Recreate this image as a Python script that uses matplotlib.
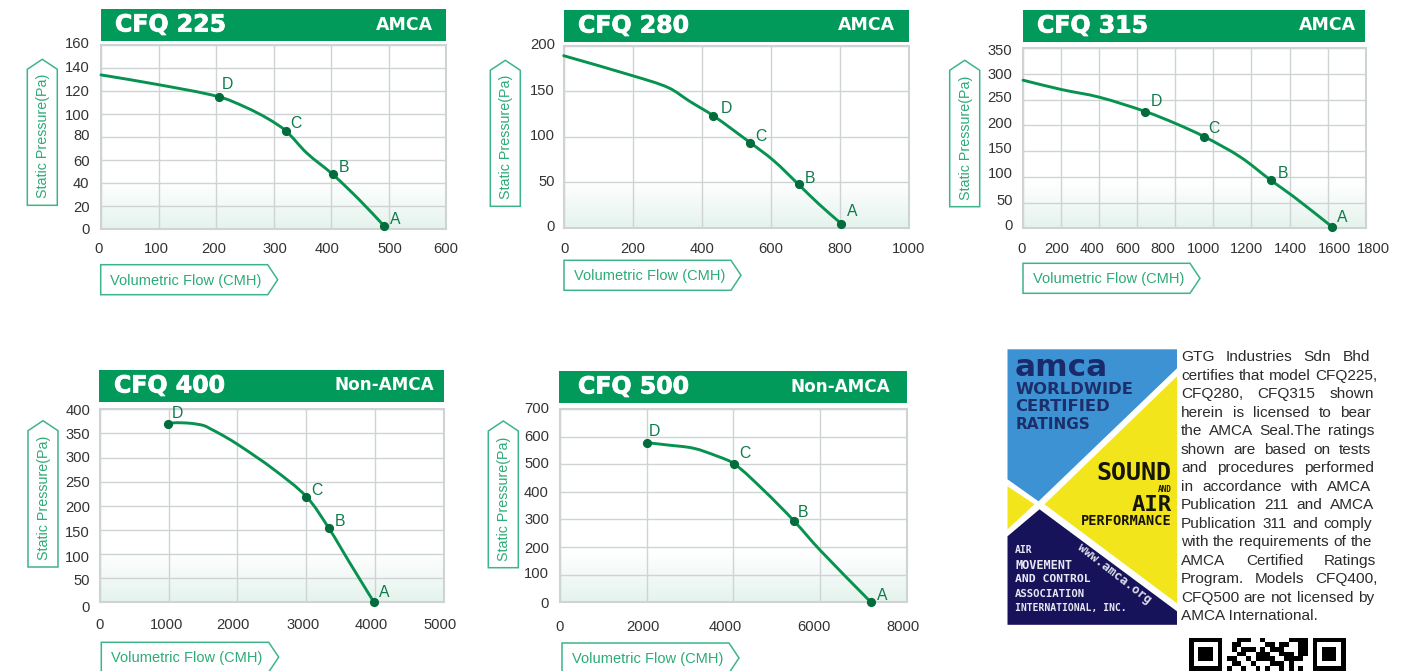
import numpy as np
import matplotlib
matplotlib.use("Agg")
import matplotlib.pyplot as plt
import matplotlib.patheffects as pe
from matplotlib.patches import Polygon, Rectangle, PathPatch
from matplotlib.path import Path
from matplotlib.transforms import ScaledTranslation
from matplotlib.colors import LinearSegmentedColormap

W, H = 1412, 671
DPI = 100
plt.rcParams['font.family'] = ['Liberation Sans', 'DejaVu Sans']

GREEN = '#029a5a'
LINE = '#07924f'
DOT = '#036c3d'
LETTER = '#0f7a4a'
BOX = '#3fb488'
BOXTXT = '#2cab78'
TICK = '#333333'
GRID = '#d0d3d3'

# ---- data ----
MODELS = ['CFQ 225', 'CFQ 280', 'CFQ 315', 'CFQ 400', 'CFQ 500']
CLASSES = ['AMCA', 'AMCA', 'AMCA', 'Non-AMCA', 'Non-AMCA']

FLOW_225 = [0, 100, 205, 251, 290, 321, 358, 403, 450, 493]
PRES_225 = [134, 125.5, 115, 106, 96, 85.5, 66, 47.5, 25, 2.3]
PTS_X_225 = [493, 403, 321, 205]
PTS_Y_225 = [2.3, 47.5, 85.5, 115]
XT_225 = [0, 100, 200, 300, 400, 500, 600]
YT_225 = [0, 20, 40, 60, 80, 100, 120, 140, 160]

FLOW_280 = [0, 200, 303, 365, 434, 541, 608, 681, 740, 805]
PRES_280 = [189, 167, 154, 139, 123, 93.4, 74, 47.6, 26, 4.4]
PTS_X_280 = [805, 681, 541, 434]
PTS_Y_280 = [4.4, 47.6, 93.4, 123]
XT_280 = [0, 200, 400, 600, 800, 1000]
YT_280 = [0, 50, 100, 150, 200]

FLOW_315 = [0, 200, 400, 643, 800, 953, 1140, 1303, 1420, 1623]
PRES_315 = [288, 270, 255, 227, 204, 178, 139, 93, 62, 3]
PTS_X_315 = [1623, 1303, 953, 643]
PTS_Y_315 = [3, 93, 178, 227]
XT_315 = [0, 200, 400, 600, 800, 1000, 1200, 1400, 1600, 1800]
YT_315 = [0, 50, 100, 150, 200, 250, 300, 350]

FLOW_400 = [998, 1080, 1192, 1320, 1420, 1520, 1604, 1800, 2040, 2524, 3004, 3333, 3638, 3987]
PRES_400 = [370, 372, 372, 371, 369, 366, 360, 345, 324, 276, 219, 153, 81, 0]
PTS_X_400 = [3987, 3333, 3004, 998]
PTS_Y_400 = [0, 153, 219, 370]
XT_400 = [0, 1000, 2000, 3000, 4000, 5000]
YT_400 = [0, 50, 100, 150, 200, 250, 300, 350, 400]

FLOW_500 = [2015, 2462, 3077, 3615, 4015, 4692, 5392, 6000, 7177]
PRES_500 = [578, 570, 558, 530, 502, 407, 296, 189, 0]
PTS_X_500 = [7177, 5392, 4015, 2015]
PTS_Y_500 = [0, 296, 502, 578]
XT_500 = [0, 2000, 4000, 6000, 8000]
YT_500 = [0, 100, 200, 300, 400, 500, 600, 700]

POINT_NAMES = ['A', 'B', 'C', 'D']
X_LABEL = 'Volumetric Flow (CMH)'
Y_LABEL = 'Static Pressure(Pa)'

PARAGRAPH = [
    'GTG Industries Sdn Bhd',
    'certifies that model CFQ225,',
    'CFQ280, CFQ315 shown',
    'herein is licensed to bear',
    'the AMCA Seal.The ratings',
    'shown are based on tests',
    'and procedures performed',
    'in accordance with AMCA',
    'Publication 211 and AMCA',
    'Publication 311 and comply',
    'with the requirements of the',
    'AMCA Certified Ratings',
    'Program. Models CFQ400,',
    'CFQ500 are not licensed by',
    'AMCA International.',
]
PARA_RIGHT = [1370, 1377, 1374, 1371, 1374, 1371, 1374, 1371, 1374, 1372, 1372, 1376, 1378, 1374, None]

QR_MIDDLE = [
    "00111001000001111",
    "01100000110110011",
    "01011101011100011",
    "00110011100111011",
    "11001011110011110",
    "01100100011101000",
    "10010010100101010",
]
QR_FINDER = ["1111111", "1000001", "1011101", "1011101", "1011101", "1000001", "1111111"]

# ---- layout (pixels) ----
LAYOUT = [
    dict(plot=(101, 45, 446, 229), head=(101, 9, 446, 41), ybox=(27.3, 57.3, 59.3, 205.3), xbox=(100.7, 267.7, 264.7, 294.7),
         xshift=[-2, -2, -2, 1, -4, 1, 0], yshift=[1, 1, 0, 1, -2, 1, 0, 0, -1], xc=248, yr=89.5, title_x=115, cls_r=433,
         off=[(11, -7), (11, -7), (10, -7), (9, -12)]),
    dict(plot=(563.7, 45.7, 908.5, 227.7), head=(564, 10, 909, 42), ybox=(490.3, 520.3, 60.3, 206.3), xbox=(564, 731, 260.3, 290.3),
         xshift=[1, 0, 0, 0, 0, 0], yshift=[-1, -1, -1, -1, -1], xc=248, yr=555, title_x=578, cls_r=895,
         off=[(11, -12), (11, -6), (11, -6), (13, -7)]),
    dict(plot=(1023, 48.3, 1365.7, 228.3), head=(1023, 10, 1365, 42), ybox=(949.7, 979.7, 60.3, 206.7), xbox=(1023, 1190, 263.3, 293.3),
         xshift=[-1, -4, -7, -9, -12, -10, -5, 1, 7, 8], yshift=[-3, -2, -3, -3, -2, -2, 0, 2], xc=248, yr=1012.5, title_x=1037, cls_r=1356,
         off=[(10, -9), (12, -7), (9, -8), (11, -10)]),
    dict(plot=(99.7, 409.3, 443.7, 602.3), head=(99, 370, 444, 402), ybox=(28, 58, 420.7, 567), xbox=(101.3, 268.7, 642.3, 672),
         xshift=[0, -2, -4, -3, -4, -4], yshift=[5, 2, 3, 3, 2, 1, 0, 1, 1], xc=624, yr=90, title_x=114, cls_r=434,
         off=[(10, -10), (11, -7), (10, -6), (9, -10)]),
    dict(plot=(560, 409, 906.7, 602.3), head=(559, 371, 907, 403), ybox=(488.3, 518.3, 421, 567.7), xbox=(562, 729, 643, 673),
         xshift=[0, -4, -8, -6, -4], yshift=[1, -1, 1, 0, 1, -1, 0, 0], xc=626, yr=549, title_x=578, cls_r=890,
         off=[(11, -7), (9, -8), (11, -10), (7, -11)]),
]

CHARTS = [
    (FLOW_225, PRES_225, PTS_X_225, PTS_Y_225, XT_225, YT_225),
    (FLOW_280, PRES_280, PTS_X_280, PTS_Y_280, XT_280, YT_280),
    (FLOW_315, PRES_315, PTS_X_315, PTS_Y_315, XT_315, YT_315),
    (FLOW_400, PRES_400, PTS_X_400, PTS_Y_400, XT_400, YT_400),
    (FLOW_500, PRES_500, PTS_X_500, PTS_Y_500, XT_500, YT_500),
]

fig = plt.figure(figsize=(W / DPI, H / DPI), dpi=DPI, facecolor='white')
px = 72 / DPI  # one pixel in points


def px_axes(x0, y0, x1, y1, **kw):
    return fig.add_axes([x0 / W, 1 - y1 / H, (x1 - x0) / W, (y1 - y0) / H], **kw)


def smooth_path(xs, ys, tension=0.5):
    """Bezier path passing through every read point."""
    p = np.column_stack([xs, ys]).astype(float)
    scale = p[-1] - p[0]
    verts = [tuple(p[0])]
    codes = [Path.MOVETO]

    def tang(a, c):
        n = np.linalg.norm((c - a) / scale)
        return (c - a) / n if n else c * 0

    for k in range(len(p) - 1):
        p0 = p[max(k - 1, 0)]
        p1 = p[k]
        p2 = p[k + 1]
        p3 = p[min(k + 2, len(p) - 1)]
        seg = np.linalg.norm((p2 - p1) / scale)
        c1 = p1 + tang(p0, p2) * seg * tension * 2 / 3
        c2 = p2 - tang(p1, p3) * seg * tension * 2 / 3
        verts += [tuple(c1), tuple(c2), tuple(p2)]
        codes += [Path.CURVE4] * 3
    return Path(verts, codes)


# overlay in pixel coordinates for headers, tag boxes, logo, text
bg = fig.add_axes([0, 0, 1, 1], zorder=5)
bg.set_xlim(0, W)
bg.set_ylim(H, 0)
bg.axis('off')
bg.patch.set_alpha(0)

fade = LinearSegmentedColormap.from_list('fade', ['#ffffff', '#e5f3ed'])
grad = np.linspace(0, 1, 64).reshape(-1, 1)
TICK_FS = 10.6

for i, (lay, chart) in enumerate(zip(LAYOUT, CHARTS)):
    fx, fy, ptx, pty, xt, yt = chart
    x0, y0, x1, y1 = lay['plot']
    ax = px_axes(x0, y0, x1, y1, zorder=2)
    ax.imshow(grad, cmap=fade, aspect='auto', origin='upper', extent=(0, 1, 0, 0.26),
              transform=ax.transAxes, zorder=0)
    ax.set_xlim(xt[0], xt[-1])
    ax.set_ylim(yt[0], yt[-1])
    ax.set_axisbelow(True)
    ax.grid(True, color=GRID, lw=1.0)
    for s in ax.spines.values():
        s.set_color(GRID)
        s.set_linewidth(1.5)
    ax.add_patch(PathPatch(smooth_path(fx, fy), fc='none', ec=LINE, lw=2.1, capstyle='round',
                           joinstyle='round', clip_on=False, zorder=3))
    ax.plot(ptx, pty, ls='none', marker='o', ms=5.6, color=DOT, clip_on=False, zorder=4)
    for name, a, b, (dx, dy) in zip(POINT_NAMES, ptx, pty, lay['off']):
        ax.annotate(name, (a, b), xytext=(dx * px, -dy * px), textcoords='offset points',
                    ha='center', va='center', color=LETTER, fontsize=11.3, zorder=5, annotation_clip=False)
    ax.set_xticks(xt)
    ax.set_yticks(yt)
    ax.tick_params(length=0, labelsize=TICK_FS, labelcolor=TICK,
                   pad=(lay['xc'] - y1 - 6) * px, axis='x')
    ax.tick_params(length=0, labelsize=TICK_FS, labelcolor=TICK,
                   pad=(x0 - lay['yr']) * px, axis='y')
    for lab, s in zip(ax.get_xticklabels(), lay['xshift']):
        lab.set_transform(lab.get_transform() + ScaledTranslation(s / DPI, 0, fig.dpi_scale_trans))
    for lab, s in zip(ax.get_yticklabels(), lay['yshift']):
        lab.set_transform(lab.get_transform() + ScaledTranslation(0, -(s - 1) / DPI, fig.dpi_scale_trans))

    # header
    hx0, hy0, hx1, hy1 = lay['head']
    bg.add_patch(Rectangle((hx0, hy0), hx1 - hx0, hy1 - hy0, fc=GREEN, ec='none'))
    bg.text(lay['title_x'], (hy0 + hy1) / 2 - 0.5, MODELS[i], color='white', family='DejaVu Sans',
            weight='bold', fontsize=17.0, ha='left', va='center',
            path_effects=[pe.withStroke(linewidth=0.6, foreground='white')])
    bg.text(lay['cls_r'], (hy0 + hy1) / 2 - 0.5, CLASSES[i], color='white', family='DejaVu Sans',
            weight='bold', fontsize=12.5 if CLASSES[i] == 'AMCA' else 12.2, ha='right', va='center')

    # y tag (arrow up)
    a, b, top, bot = lay['ybox']
    bg.add_patch(Polygon([(a, bot), (a, top + 10), ((a + b) / 2, top), (b, top + 10), (b, bot)],
                         closed=True, fc='white', ec=BOX, lw=1.1))
    bg.text((a + b) / 2 + 1, bot - 69, Y_LABEL, rotation=90, color=BOXTXT, fontsize=10.3,
            ha='center', va='center')
    # x tag (arrow right)
    a, b, top, bot = lay['xbox']
    ym = (top + bot) / 2
    bg.add_patch(Polygon([(a, top), (b, top), (b + 10, ym), (b, bot), (a, bot)],
                         closed=True, fc='white', ec=BOX, lw=1.1, clip_on=True))
    bg.text(a + 9.7, ym + 1, X_LABEL, color=BOXTXT, fontsize=10.5, ha='left', va='center')

# ---- AMCA logo ----
LX0, LY0 = 1007.5, 349.3


def lp(u, v):
    return (LX0 + u, LY0 + v)


BLUE = '#3d92d3'
YEL = '#f3e51c'
NAVY = '#17135a'
bg.add_patch(Rectangle((LX0, LY0), 169.5, 275.5, fc='white', ec='none'))
bg.add_patch(Polygon([lp(0, 0), lp(169.5, 0), lp(169.5, 19), lp(31, 152), lp(0, 130)], fc=BLUE, ec='none'))
bg.add_patch(Polygon([lp(169.5, 27), lp(169.5, 254), lp(37, 155)], fc=YEL, ec='none'))
bg.add_patch(Polygon([lp(0, 137), lp(27, 155), lp(0, 180)], fc=YEL, ec='none'))
bg.add_patch(Polygon([lp(0, 187), lp(32, 160), lp(169.5, 262), lp(169.5, 275.5), lp(0, 275.5)], fc=NAVY, ec='none'))


def logo_text(u, v, s, size, color, ha='left', rot=0, fam='DejaVu Sans Mono', weight='bold'):
    bg.text(LX0 + u, LY0 + v, s, fontsize=size, color=color, ha=ha, va='center', rotation=rot,
            family=fam, weight=weight, rotation_mode='anchor')


logo_text(7, 18, 'amca', 22.4, '#1b2a6b', fam='DejaVu Sans')
logo_text(8, 40, 'WORLDWIDE', 11.8, '#1c2f6a', fam='DejaVu Sans')
logo_text(8, 57.5, 'CERTIFIED', 11.8, '#1c2f6a', fam='DejaVu Sans')
logo_text(8, 75, 'RATINGS', 11, '#1c2f6a', fam='DejaVu Sans')
logo_text(164, 124, 'SOUND', 18, '#15150a', ha='right')
logo_text(164, 140, 'AND', 5.5, '#15150a', ha='right')
logo_text(164, 156, 'AIR', 16, '#15150a', ha='right')
logo_text(164, 172, 'PERFORMANCE', 9.8, '#15150a', ha='right')
logo_text(7.5, 201, 'AIR', 7, '#e8e8f4')
logo_text(7.5, 216, 'MOVEMENT', 8.6, '#e8e8f4')
logo_text(7.5, 230, 'AND CONTROL', 8.2, '#e8e8f4')
logo_text(7.5, 245, 'ASSOCIATION', 7.7, '#e8e8f4')
logo_text(7.5, 259, 'INTERNATIONAL, INC.', 7, '#e8e8f4')
logo_text(72, 197, 'www.amca.org', 8.9, '#dcdcec', rot=-38)

# ---- justified paragraph ----
fig.canvas.draw()
rend = fig.canvas.get_renderer()
PARA_FS = 11.1
PARA_X = 1181.0


def width_of(s):
    t = bg.text(0, 0, s, fontsize=PARA_FS)
    w = t.get_window_extent(rend).width
    t.remove()
    return w


for k, (line, right) in enumerate(zip(PARAGRAPH, PARA_RIGHT)):
    y = 357.2 + k * 18.52
    words = line.split(' ')
    if right is None or len(words) == 1:
        bg.text(PARA_X, y, line, fontsize=PARA_FS, color='#2b2b2b', ha='left', va='center')
        continue
    widths = [width_of(w) for w in words]
    gap = (right - PARA_X - sum(widths)) / (len(words) - 1)
    x = PARA_X
    for w, wd in zip(words, widths):
        bg.text(x, y, w, fontsize=PARA_FS, color='#2b2b2b', ha='left', va='center')
        x += wd + gap

# ---- QR code, cut by the page edge ----
rows = [f + '0' + m + '0' + f for f, m in zip(QR_FINDER, QR_MIDDLE)]
qr = np.array([[1 - int(c) for c in r] for r in rows], dtype=float)
qax = px_axes(1188.7, 637.7, 1345.7, 671, zorder=6)
qax.imshow(qr, cmap='gray', vmin=0, vmax=1, aspect='auto', interpolation='nearest')
qax.axis('off')

fig.savefig('out.png', dpi=DPI, facecolor='white')
